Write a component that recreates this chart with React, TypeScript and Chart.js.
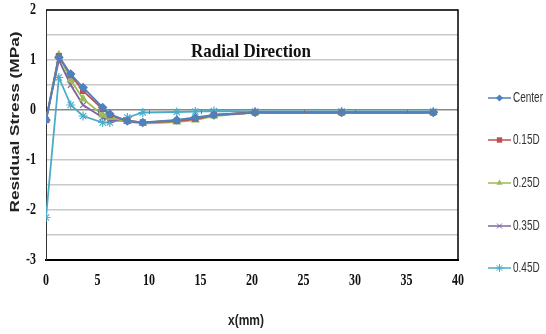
import React, { useEffect, useRef } from "react";
import { Chart, registerables } from "chart.js";

Chart.register(...registerables);

const xValues = [0, 1.25, 2.4, 3.6, 5.5, 6.2, 7.9, 9.4, 12.7, 14.5, 16.3, 20.3, 28.7, 37.6];
const center = [-0.2, 1.05, 0.72, 0.45, 0.05, -0.08, -0.22, -0.25, -0.2, -0.15, -0.1, -0.05, -0.05, -0.05];
const d015 = [-0.2, 1.08, 0.7, 0.38, 0.02, -0.1, -0.22, -0.25, -0.22, -0.18, -0.1, -0.05, -0.05, -0.05];
const d025 = [-0.2, 1.1, 0.6, 0.22, -0.1, -0.15, -0.23, -0.27, -0.24, -0.2, -0.12, -0.05, -0.05, -0.05];
const d035 = [-0.2, 1.0, 0.5, 0.1, -0.15, -0.2, -0.22, -0.25, -0.22, -0.18, -0.1, -0.05, -0.05, -0.05];
const d045 = [-2.15, 0.65, 0.1, -0.12, -0.25, -0.25, -0.15, -0.05, -0.04, -0.03, -0.02, -0.03, -0.03, -0.03];

const seriesNames = ["Center", "0.15D", "0.25D", "0.35D", "0.45D"];
const seriesValues = [center, d015, d025, d035, d045];
const seriesColors = ["#4F81BD", "#C0504D", "#9BBB59", "#8064A2", "#4BACC6"];
const seriesMarkers = ["rectRot", "rect", "triangle", "crossRot", "star"];
const markerSizes = [4, 3.5, 4, 4, 4.5];

const xTickValues = [0, 5, 10, 15, 20, 25, 30, 35, 40];
const yTickValues = [-3, -2, -1, 0, 1, 2];

const title = "Radial Direction";
const yTitle = "Residual Stress (MPa)";
const xTitle = "x(mm)";

function drawMarker(ctx: CanvasRenderingContext2D, style: string, r: number, x: number, y: number, color: string) {
  ctx.save();
  ctx.fillStyle = color;
  ctx.strokeStyle = color;
  ctx.lineWidth = 1;
  ctx.beginPath();
  if (style === "rectRot") {
    ctx.moveTo(x, y - r); ctx.lineTo(x + r, y); ctx.lineTo(x, y + r); ctx.lineTo(x - r, y); ctx.closePath(); ctx.fill();
  } else if (style === "rect") {
    const s = r * 0.9;
    ctx.rect(x - s, y - s, 2 * s, 2 * s); ctx.fill();
  } else if (style === "triangle") {
    ctx.moveTo(x, y - r); ctx.lineTo(x + r * 0.87, y + r * 0.5); ctx.lineTo(x - r * 0.87, y + r * 0.5); ctx.closePath(); ctx.fill();
  } else if (style === "crossRot") {
    const s = r * 0.7;
    ctx.moveTo(x - s, y - s); ctx.lineTo(x + s, y + s); ctx.moveTo(x + s, y - s); ctx.lineTo(x - s, y + s); ctx.stroke();
  } else {
    const s = r * 0.7;
    ctx.moveTo(x - s, y - s); ctx.lineTo(x + s, y + s); ctx.moveTo(x + s, y - s); ctx.lineTo(x - s, y + s);
    ctx.moveTo(x, y - r); ctx.lineTo(x, y + r); ctx.moveTo(x - r, y); ctx.lineTo(x + r, y); ctx.stroke();
  }
  ctx.restore();
}

function drawText(
  ctx: CanvasRenderingContext2D, text: string, x: number, y: number, font: string,
  align: CanvasTextAlign, sy: number, color: string, rotate = false, targetLen = 0
) {
  ctx.save();
  ctx.font = font;
  ctx.fillStyle = color;
  ctx.textAlign = align;
  ctx.textBaseline = "middle";
  ctx.translate(x, y);
  if (rotate) {
    ctx.rotate(-Math.PI / 2);
    const w = ctx.measureText(text).width;
    const sx = targetLen > 0 ? targetLen / w : 1;
    ctx.scale(sx, 1);
  } else {
    ctx.scale(1, sy);
  }
  ctx.fillText(text, 0, 0);
  ctx.restore();
}

const customPlugin = {
  id: "customDecor",
  afterDraw(chart: any) {
    const ctx = chart.ctx;
    const area = chart.chartArea;
    const ys = chart.scales.y;
    const xs = chart.scales.x;
    ctx.save();
    ctx.strokeStyle = "#000";
    ctx.lineWidth = 1.5;
    ctx.beginPath();
    ctx.moveTo(area.left, area.top);
    ctx.lineTo(area.right, area.top);
    ctx.lineTo(area.right, area.bottom);
    ctx.stroke();
    const y0 = ys.getPixelForValue(0);
    ctx.strokeStyle = "#777";
    ctx.lineWidth = 1;
    for (let v = 5; v < 40; v += 5) {
      const px = Math.round(xs.getPixelForValue(v)) + 0.5;
      ctx.beginPath();
      ctx.moveTo(px, y0);
      ctx.lineTo(px, y0 + 4);
      ctx.stroke();
    }
    ctx.restore();

    const tickFont = "bold 12px 'Liberation Serif'";
    xTickValues.forEach((v) => {
      drawText(ctx, String(v), xs.getPixelForValue(v), area.bottom + 21, tickFont, "center", 1.45, "#111");
    });
    yTickValues.forEach((v) => {
      drawText(ctx, String(v), 36, ys.getPixelForValue(v), tickFont, "right", 1.45, "#111");
    });
    drawText(ctx, title, 251, 52, "bold 17px 'Liberation Serif'", "center", 1.05, "#111");
    drawText(ctx, yTitle, 15, 122, "bold 13px 'Liberation Sans'", "center", 1, "#222", true, 181);
    drawText(ctx, xTitle, 246, 321, "bold 12px 'Liberation Sans'", "center", 1.2, "#222");

    const legendY = [98, 140, 183, 226, 268];
    seriesNames.forEach((name, i) => {
      const y = legendY[i];
      ctx.save();
      ctx.strokeStyle = seriesColors[i];
      ctx.lineWidth = 1.5;
      ctx.beginPath();
      ctx.moveTo(488, y);
      ctx.lineTo(511, y);
      ctx.stroke();
      ctx.restore();
      drawMarker(ctx, seriesMarkers[i], markerSizes[i] - 0.5, 499.5, y, seriesColors[i]);
      drawText(ctx, name, 513, y, "10px 'Liberation Sans'", "left", 1.4, "#333");
    });
  },
};

export default function App() {
  const ref = useRef<HTMLCanvasElement>(null);
  useEffect(() => {
    document.body.style.margin = "0";
    const datasets = seriesNames.map((name, i) => ({
      label: name,
      data: xValues.map((x, j) => ({ x, y: seriesValues[i][j] })),
      showLine: true,
      borderColor: seriesColors[i],
      backgroundColor: seriesColors[i],
      borderWidth: 1.8,
      pointStyle: seriesMarkers[i],
      pointRadius: markerSizes[i],
      pointBorderColor: seriesColors[i],
      pointBackgroundColor: seriesColors[i],
      pointBorderWidth: 1.2,
      tension: 0,
    }));
    const chart = new Chart(ref.current as HTMLCanvasElement, {
      type: "scatter",
      data: { datasets },
      options: {
        animation: false,
        responsive: false,
        layout: { padding: { top: 10, right: 88, left: 0, bottom: 0 } },
        plugins: { legend: { display: false }, tooltip: { enabled: false } },
        scales: {
          x: {
            type: "linear",
            min: 0,
            max: 40,
            afterFit: (s: any) => { s.height = 74; },
            border: { color: "#000", width: 2 },
            grid: { display: false, drawTicks: false },
            ticks: { stepSize: 5, display: false },
            title: { display: false },
          },
          y: {
            min: -3,
            max: 2,
            afterFit: (s: any) => { s.width = 46; },
            border: { color: "#333", width: 1 },
            grid: {
              color: (c: any) => (c.tick && c.tick.value === 0 ? "#888" : "#c8c8c8"),
              lineWidth: 1.5,
              drawTicks: false,
            },
            ticks: { stepSize: 0.5, display: false },
            title: { display: false },
          },
        },
      },
      plugins: [customPlugin],
    } as any);
    return () => chart.destroy();
  }, []);
  return (
    <div style={{ position: "fixed", left: 0, top: 0, width: 546, height: 334 }}>
      <canvas ref={ref} width={546} height={334} style={{ width: 546, height: 334 }} />
    </div>
  );
}
